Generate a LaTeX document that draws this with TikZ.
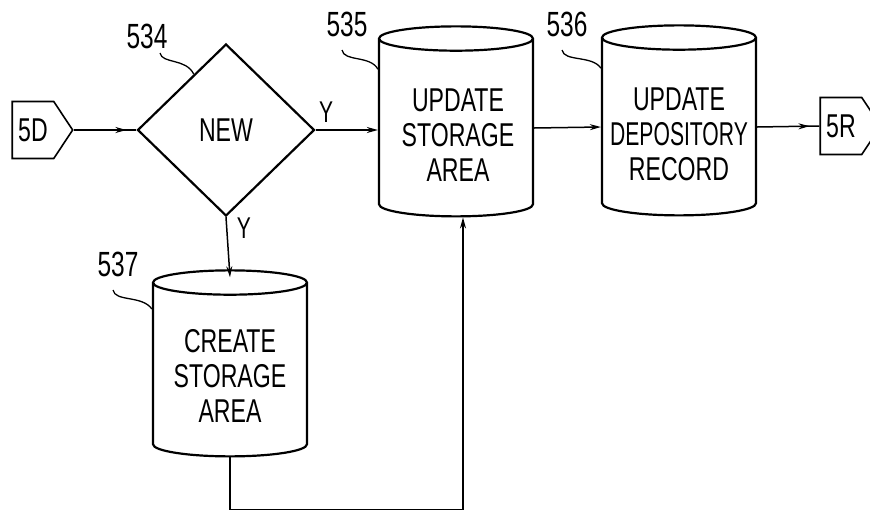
\documentclass[tikz,border=0pt]{standalone}
\usepackage{fontspec}
\newfontfamily\patfont[FakeStretch=0.7]{Liberation Sans}
\newfontfamily\patfontn[FakeStretch=0.64]{Liberation Sans}
\usetikzlibrary{shapes.geometric,shapes.symbols,arrows.meta,decorations.markings}

\tikzset{
  store/.style={cylinder, shape border rotate=90, draw, line width=2.2pt, aspect=0.16,
    text width=152pt, minimum width=154pt, minimum height=190pt, inner sep=0pt},
  storetext/.style={align=center, inner sep=0pt, font=\patfont\fontsize{33}{35}\selectfont},
  test/.style={diamond, draw, line width=2.2pt, minimum width=177pt, minimum height=172pt,
    inner sep=0pt, font=\patfont\fontsize{33}{35}\selectfont},
  offpage/.style={signal, signal to=east, draw, line width=1.6pt, signal pointer angle=113,
    inner xsep=6pt, inner ysep=17pt, text height=23pt, text depth=0pt,
    font=\patfont\fontsize{33}{34}\selectfont},
  ref/.style={font=\patfont\fontsize{35}{36}\selectfont},
  yes/.style={font=\patfont\fontsize{30}{32}\selectfont},
  lead/.style={line width=1.3pt},
  flow/.style={line width=1.5pt, -{Stealth[length=11pt,width=6pt]}},
  early/.style={line width=1.5pt, postaction=decorate, decoration={markings,
    mark=at position -10pt with {\arrow{Stealth[length=11pt,width=6pt]}}}}
}

\begin{document}
\begin{tikzpicture}[x=1pt, y=-1pt]
\useasboundingbox (0,0) rectangle (870,517);

% Bloques
\node[offpage] (c5D) at (33,130) {5D};
\node[test] (new) at (226,130) {NEW};
\node[store] (s535) at (456,128) {};
\node[store] (s536) at (679,127) {};
\node[store, minimum height=186pt] (s537) at (230,370) {};
\node[offpage] (c5R) at (841,126) {5R};

% Textos de los bloques
\node[storetext] (t535) at (458,135) {UPDATE\\STORAGE\\AREA};
\node[storetext] (t536) at (679,134) {UPDATE\\{\patfontn DEPOSITORY}\\RECORD};
\node[storetext] (t537) at (230,376) {CREATE\\STORAGE\\AREA};

% Numeros de referencia
\node[ref] (l534) at (147,36) {534};
\node[ref] (l535) at (347,24) {535};
\node[ref] (l536) at (567,24) {536};
\node[ref] (l537) at (118,264) {537};
\draw[lead] (160,53) .. controls (162,64) and (186,58) .. (new.120);
\draw[lead] (342,50) .. controls (344,62) and (370,55) .. (s535.143);
\draw[lead] (562,50) .. controls (564,62) and (592,55) .. (s536.143);
\draw[lead] (113,290) .. controls (115,302) and (142,295) .. (s537.142);

% Rama Y
\node[yes] (ya) at (326,112) {Y};
\node[yes] (yb) at (244,228) {Y};

% Conexiones
\draw[early] (c5D.east) -- (new.west);
\draw[flow] (new.east) -- (new.east -| s535.west);
\draw[flow] (s535.east) -- (s536.west);
\draw[early] (s536.east) -- (c5R.west);
\draw[flow] (new.south) -- ([yshift=-8pt]s537.north);
\draw[flow] (s537.south) -- ++(0,52) -| ([xshift=7pt]s535.south);

\end{tikzpicture}
\end{document}
